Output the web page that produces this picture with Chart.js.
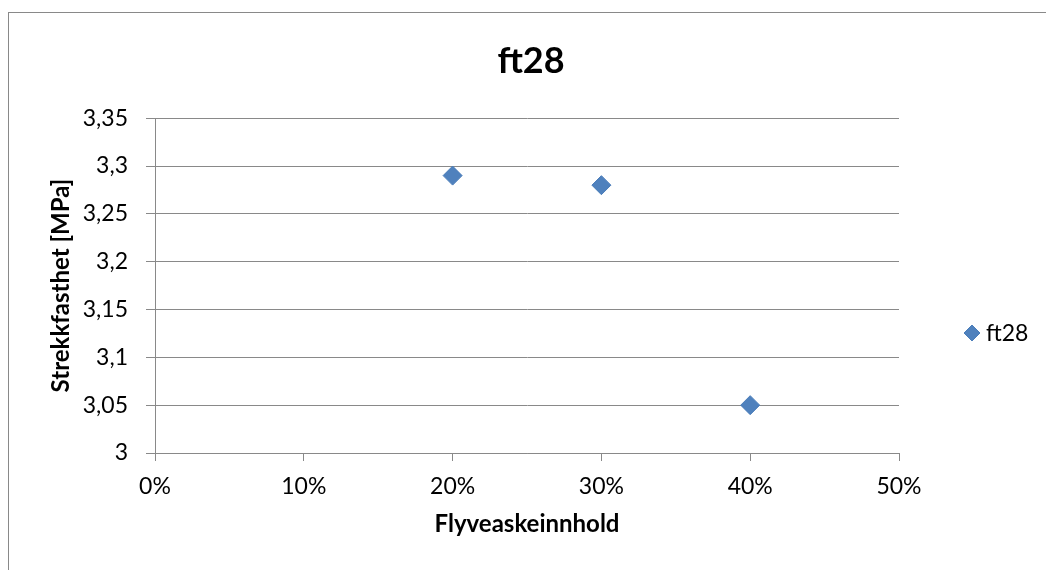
<!DOCTYPE html>
<html lang="no">
<head>
<meta charset="utf-8">
<title>ft28</title>
<script src="https://cdn.jsdelivr.net/npm/chart.js@4.4.1/dist/chart.umd.min.js"></script>
<style>
  html, body { margin: 0; padding: 0; background: #fff; }
  #wrap { position: relative; width: 1046px; height: 570px; }
</style>
</head>
<body>
<div id="wrap"><canvas id="ftChart"></canvas></div>
<script>
// Strekkfasthet (28 døgn) mot flyveaskeinnhold
const flyveaske = [20, 30, 40];        // % av bindemiddel
const ft28 = [3.29, 3.28, 3.05];       // MPa
const seriesName = 'ft28';
const chartTitle = 'ft28';
const xTitle = 'Flyveaskeinnhold';
const yTitle = 'Strekkfasthet [MPa]';
const xMin = 0, xMax = 50, xStep = 10;
const yMin = 3, yMax = 3.35, yStep = 0.05;

const FONT = 'Lato, "Open Sans", sans-serif';
const GRID = '#898989';
const MARKER = '#4F81BD';
const MARKER_EDGE = '#4A7DBA';

// hvit bakgrunn + ytre ramme (høyre/nedre kant faller utenfor lerretet)
const chartFrame = {
  id: 'chartFrame',
  beforeDraw(chart) {
    const { ctx, width, height } = chart;
    ctx.save();
    ctx.fillStyle = '#fff';
    ctx.fillRect(0, 0, width, height);
    ctx.strokeStyle = GRID;
    ctx.lineWidth = 1;
    ctx.strokeRect(8.5, 12.5, width + 20, height + 20);
    ctx.restore();
  }
};

// forklaring til høyre, litt under midten som i Excel
const sideLegend = {
  id: 'sideLegend',
  afterDraw(chart) {
    const { ctx, chartArea } = chart;
    const ds = chart.data.datasets[0];
    const x = chartArea.right + 73;
    const y = 333;
    ctx.save();
    ctx.fillStyle = ds.backgroundColor;
    ctx.strokeStyle = ds.borderColor;
    Chart.helpers.drawPoint(ctx, { pointStyle: 'rectRot', radius: 8, borderWidth: 1, rotation: 0 }, x, y);
    ctx.fillStyle = '#000';
    ctx.font = `23px ${FONT}`;
    ctx.textBaseline = 'middle';
    ctx.textAlign = 'left';
    ctx.fillText(ds.label, x + 14, y + 1);
    ctx.restore();
  }
};

const fmtY = v => Number(v.toFixed(2)).toString().replace('.', ',');

new Chart(document.getElementById('ftChart'), {
  type: 'scatter',
  data: {
    datasets: [{
      label: seriesName,
      data: flyveaske.map((x, i) => ({ x, y: ft28[i] })),
      pointStyle: 'rectRot',
      pointRadius: 9.5,
      borderWidth: 1,
      backgroundColor: MARKER,
      borderColor: MARKER_EDGE
    }]
  },
  options: {
    responsive: true,
    maintainAspectRatio: false,
    animation: false,
    events: [],
    layout: { padding: { left: 16, right: 0, top: 0, bottom: 0 } },
    plugins: {
      legend: { display: false },
      tooltip: { enabled: false },
      title: {
        display: true,
        text: chartTitle,
        color: '#000',
        font: { family: FONT, size: 36, weight: 'bold' },
        padding: { top: 40, bottom: 35 }
      }
    },
    scales: {
      x: {
        type: 'linear',
        min: xMin,
        max: xMax,
        ticks: {
          stepSize: xStep,
          padding: 12,
          color: '#000',
          font: { family: FONT, size: 23 },
          callback: v => v + '%'
        },
        grid: { drawOnChartArea: false, drawTicks: true, tickLength: 8, color: GRID },
        border: { display: true, color: GRID },
        title: {
          display: true,
          text: xTitle,
          color: '#000',
          font: { family: FONT, size: 24, weight: 'bold' },
          padding: { top: 0, bottom: 31 }
        },
        afterFit: s => { s.height = 117; }
      },
      y: {
        type: 'linear',
        min: yMin,
        max: yMax,
        ticks: {
          stepSize: yStep,
          padding: 18,
          color: '#000',
          font: { family: FONT, size: 23 },
          callback: fmtY
        },
        grid: { color: GRID, tickLength: 9 },
        border: { display: true, color: GRID },
        title: {
          display: true,
          text: yTitle,
          color: '#000',
          font: { family: FONT, size: 24, weight: 'bold' },
          padding: { top: 31, bottom: 0 }
        },
        afterFit: s => { s.width = 139; }
      },
      // tom akse til høyre: holder plass til forklaringen
      legendSpace: {
        type: 'linear',
        position: 'right',
        ticks: { display: false },
        grid: { display: false },
        border: { display: false },
        afterFit: s => { s.width = 147; }
      }
    }
  },
  plugins: [chartFrame, sideLegend]
});
</script>
</body>
</html>
